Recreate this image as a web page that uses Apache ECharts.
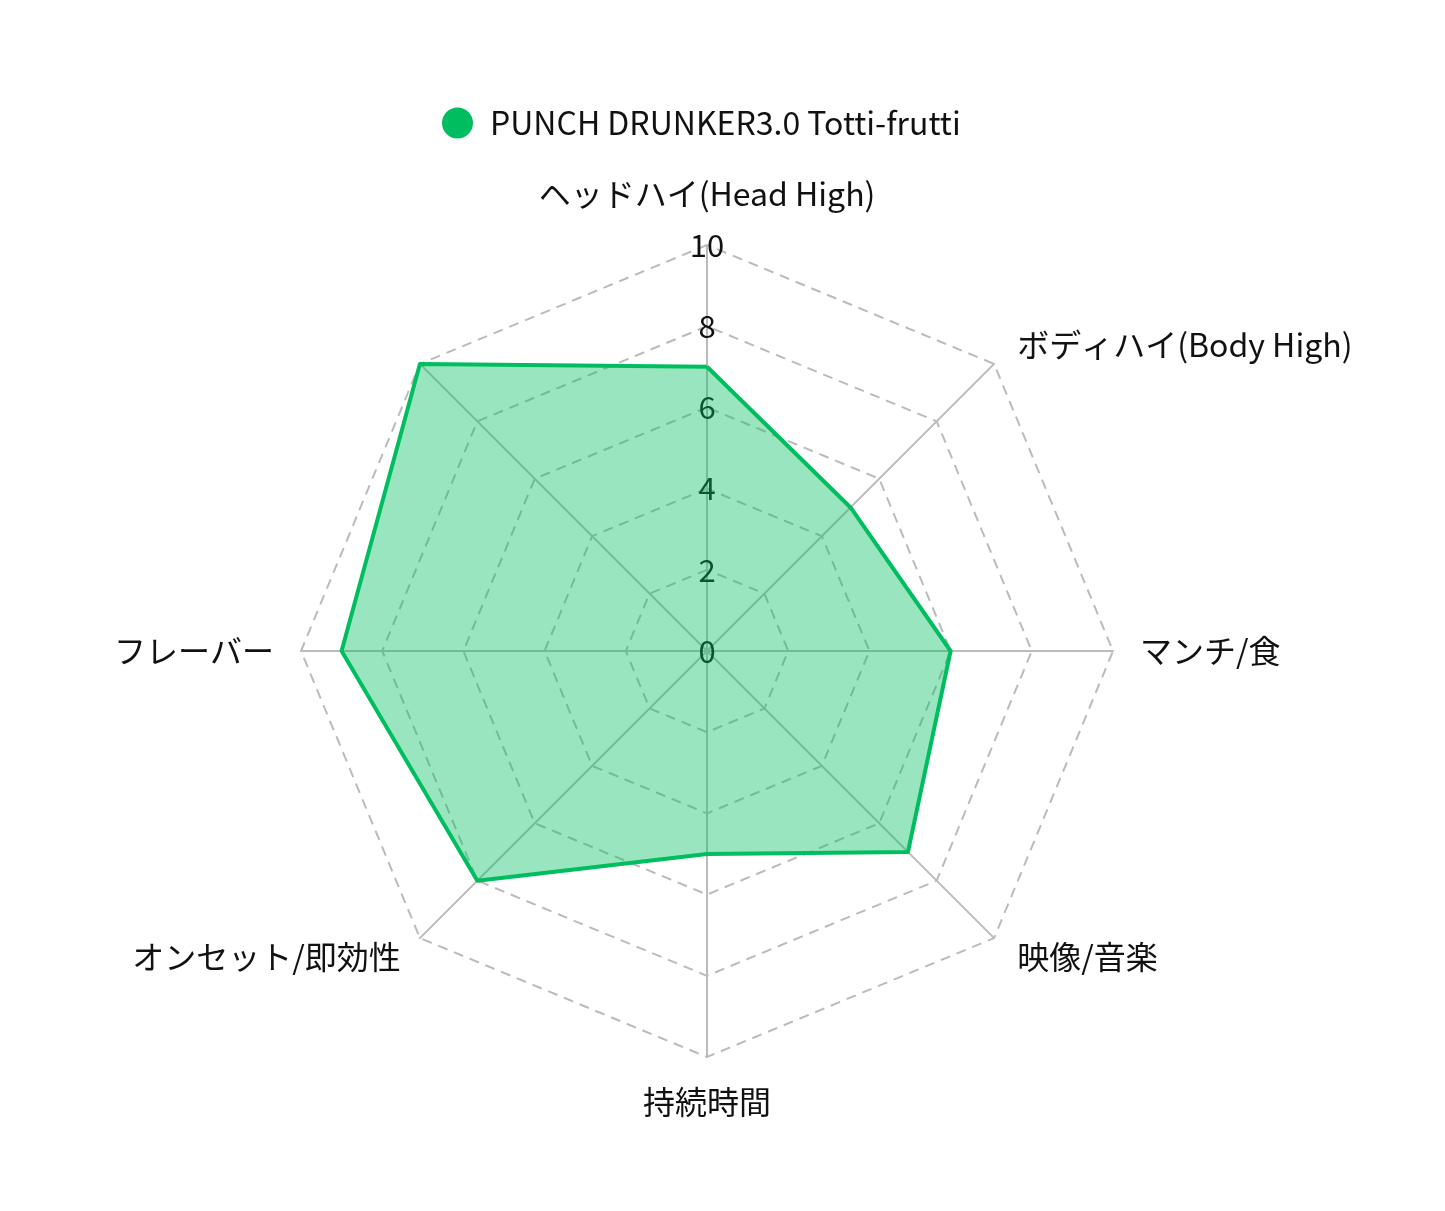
<!DOCTYPE html>
<html>
<head>
<meta charset="utf-8">
<script src="https://cdn.jsdelivr.net/npm/echarts@6/dist/echarts.min.js"></script>
<style>
  html, body { margin: 0; padding: 0; background: #fff; }
  #chart { width: 1445px; height: 1211px; }
</style>
</head>
<body>
<div id="chart"></div>
<script>
// 軸ラベル（時計回り、上から）
const axisNames = [
  'ヘッドハイ(Head High)',
  'ボディハイ(Body High)',
  'マンチ/食',
  '映像/音楽',
  '持続時間',
  'オンセット/即効性',
  'フレーバー',
  ''
];
const seriesName = 'PUNCH DRUNKER3.0 Totti-frutti';
const seriesValues = [7, 5, 6, 7, 5, 8, 9, 10];
const maxValue = 10;
const tickStep = 2;

// ECharts のレーダーは反時計回りなので先頭以外を逆順にする
const reorder = arr => [arr[0]].concat(arr.slice(1).reverse());

const font = '"Noto Sans CJK JP", "Noto Sans", sans-serif';
const green = '#00be5f';

// 軸名の微調整（時計回りの順）
const namePads = [
  [0, 0, 8, 0],
  [-10, 0, 0, 4],
  null,
  [0, 0, 0, 4],
  [2, 0, 0, 0],
  null,
  null,
  null
];
const orderedPads = reorder(namePads);

const indicators = reorder(axisNames).map((name, i) => {
  const ind = { name: name, min: 0, max: maxValue };
  if (i === 0) ind.axisLabel = { show: true };
  if (orderedPads[i]) ind.nameTextStyle = { padding: orderedPads[i] };
  return ind;
});

const chart = echarts.init(document.getElementById('chart'));
chart.setOption({
  animation: false,
  legend: {
    top: 102,
    left: 437,
    icon: 'circle',
    itemWidth: 31,
    itemHeight: 31,
    textStyle: { fontFamily: font, fontSize: 32, color: '#111', padding: [0, 0, 0, 12] },
    data: [seriesName]
  },
  radar: {
    center: [707, 651],
    radius: 406,
    shape: 'polygon',
    startAngle: 90,
    splitNumber: maxValue / tickStep,
    indicator: indicators,
    axisName: { fontFamily: font, fontSize: 32, color: '#111' },
    nameGap: 27,
    axisLine: { lineStyle: { color: '#bbb', width: 2 } },
    splitLine: { lineStyle: { color: '#bbb', width: 2, type: [10, 7] } },
    splitArea: { show: false },
    axisTick: { show: false },
    axisLabel: {
      show: false,
      margin: 0,
      align: 'center',
      verticalAlign: 'middle',
      fontFamily: font,
      fontSize: 31,
      color: '#111'
    }
  },
  series: [{
    name: seriesName,
    type: 'radar',
    symbol: 'none',
    itemStyle: { color: green },
    lineStyle: { color: green, width: 4 },
    areaStyle: { color: green, opacity: 0.4 },
    data: [{ name: seriesName, value: reorder(seriesValues) }]
  }]
});
</script>
</body>
</html>
